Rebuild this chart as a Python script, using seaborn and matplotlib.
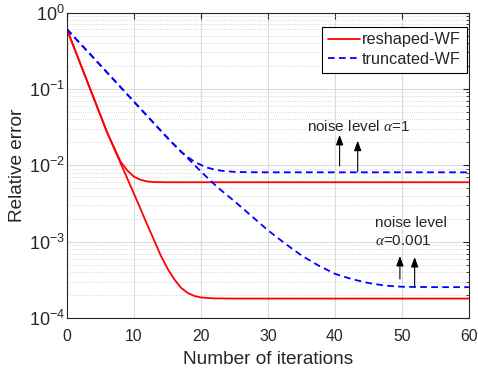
import numpy as np
import pandas as pd
import matplotlib
matplotlib.use("Agg")
import matplotlib.pyplot as plt
import matplotlib.ticker as mticker
import seaborn as sns

# values
rwf_a1_x = [0, 2, 4, 6, 8, 9, 10, 11, 12, 13, 15, 20, 30, 40, 50, 60]
rwf_a1_y = [0.605, 0.214, 0.0759, 0.0269, 0.0112, 8.6e-3, 7.1e-3, 6.45e-3,
            6.15e-3, 6.03e-3, 6.0e-3, 6.0e-3, 6.0e-3, 6.0e-3, 6.0e-3, 6.0e-3]

rwf_a2_x = [0, 2, 4, 6, 8, 10, 12, 13, 14, 15, 16, 17, 18, 19, 20, 22, 25,
            30, 40, 50, 60]
rwf_a2_y = [0.605, 0.214, 0.0759, 0.0269, 0.0107, 4.27e-3, 1.66e-3, 1.05e-3,
            6.6e-4, 4.47e-4, 3.24e-4, 2.51e-4, 2.14e-4, 1.95e-4, 1.86e-4,
            1.81e-4, 1.8e-4, 1.8e-4, 1.8e-4, 1.8e-4, 1.8e-4]

twf_a1_x = [0, 5, 10, 15, 17, 18, 19, 20, 21, 22, 23, 25, 27, 30, 40, 50, 60]
twf_a1_y = [0.605, 0.204, 0.0682, 0.0229, 0.0151, 0.0129, 0.0112, 0.0101,
            9.3e-3, 8.8e-3, 8.5e-3, 8.2e-3, 8.13e-3, 8.1e-3, 8.1e-3, 8.1e-3,
            8.1e-3]

twf_a2_x = [0, 5, 10, 15, 20, 22.5, 25, 27.5, 30, 32.5, 35, 37.5, 40, 42.5,
            45, 47.5, 50, 55, 60]
twf_a2_y = [0.605, 0.204, 0.0682, 0.0229, 8.3e-3, 5.13e-3, 3.39e-3, 2.19e-3,
            1.41e-3, 9.55e-4, 6.61e-4, 4.9e-4, 3.8e-4, 3.24e-4, 2.88e-4,
            2.66e-4, 2.57e-4, 2.54e-4, 2.54e-4]

methods = ["reshaped-WF", "truncated-WF"]
colors = {"reshaped-WF": "#ff0000", "truncated-WF": "#0000ff"}

# arrows (x, tail y, head y)
arrows = [(40.7, 9.8e-3, 0.025), (43.4, 8.2e-3, 0.021),
          (49.7, 3.25e-4, 6.5e-4), (51.9, 2.55e-4, 6.3e-4)]

frames = []
for m, noise, xs, ys in [("reshaped-WF", "a1", rwf_a1_x, rwf_a1_y),
                         ("reshaped-WF", "a2", rwf_a2_x, rwf_a2_y),
                         ("truncated-WF", "a1", twf_a1_x, twf_a1_y),
                         ("truncated-WF", "a2", twf_a2_x, twf_a2_y)]:
    frames.append(pd.DataFrame({"iter": xs, "err": ys, "method": m, "noise": noise}))
df = pd.concat(frames, ignore_index=True)

sns.set_style("white")
plt.rcParams['font.family'] = ['Liberation Sans', 'DejaVu Sans']
plt.rcParams['mathtext.fontset'] = 'custom'
plt.rcParams['mathtext.rm'] = 'Liberation Sans'
plt.rcParams['mathtext.it'] = 'Liberation Serif:italic'
plt.rcParams['mathtext.bf'] = 'Liberation Sans:bold'

dark = '#262626'
fig = plt.figure(figsize=(4.78, 3.69), dpi=100)
ax = fig.add_axes([0.140, 0.138, 0.841, 0.828])

sns.lineplot(data=df, x="iter", y="err", hue="method", style="method",
             units="noise", estimator=None, sort=False, ax=ax,
             hue_order=methods, style_order=methods, palette=colors,
             dashes={"reshaped-WF": "", "truncated-WF": (3.7, 2.4)},
             linewidth=1.3)

ax.set_yscale('log')
ax.set_xlim(0, 60)
ax.set_ylim(1e-4, 1)
ax.set_xticks([0, 10, 20, 30, 40, 50, 60])
ax.set_yticks([1e-4, 1e-3, 1e-2, 1e-1, 1])
ax.yaxis.set_major_formatter(mticker.FuncFormatter(
    lambda v, _: r"$\mathregular{10^{%d}}$" % int(round(np.log10(v)))))
ax.yaxis.set_minor_locator(mticker.LogLocator(base=10, subs=np.arange(2, 10)))
ax.yaxis.set_minor_formatter(mticker.NullFormatter())

ax.grid(which='major', color='#dcdcdc', linewidth=0.8, linestyle='-')
ax.grid(which='minor', axis='y', color='#cdcdcd', linewidth=0.6, linestyle=':')
ax.set_axisbelow(True)

for s in ax.spines.values():
    s.set_color(dark)
    s.set_linewidth(0.8)
ax.tick_params(which='both', direction='in', top=True, right=True,
               color=dark, labelcolor=dark)
ax.tick_params(which='major', length=4, width=0.8)
ax.tick_params(which='minor', length=2.5, width=0.6)
ax.tick_params(axis='x', labelsize=11.3, pad=8)
ax.tick_params(axis='y', labelsize=13, pad=1.5)

ax.set_xlabel('Number of iterations', fontsize=13.7, color=dark, labelpad=5)
ax.set_ylabel('Relative error', fontsize=13.7, color=dark, labelpad=2)

handles, labels = ax.get_legend_handles_labels()
leg = ax.legend(handles, labels, loc='upper right',
                bbox_to_anchor=(0.994, 0.954), borderaxespad=0,
                fontsize=11.7, handlelength=1.95, handletextpad=0.15,
                labelspacing=0.3, borderpad=0.35, fancybox=False,
                framealpha=1, edgecolor='black')
leg.get_frame().set_linewidth(0.8)

ax.text(35.8, 0.0327, r'noise level $\alpha$=1', fontsize=11, color=dark,
        ha='left', va='center')
ax.text(46.0, 1.34e-3, 'noise level\n' + r'$\alpha$=0.001', fontsize=11,
        color=dark, ha='left', va='center', linespacing=1.3)

for x, y0, y1 in arrows:
    ax.annotate('', xy=(x, y1), xytext=(x, y0),
                arrowprops=dict(arrowstyle='-|>,head_length=0.6,head_width=0.22',
                                color='black', lw=0.8, shrinkA=0, shrinkB=0))

fig.savefig('out.png', dpi=100)
